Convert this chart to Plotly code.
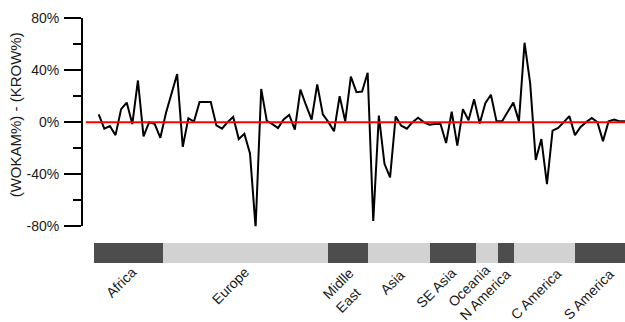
import plotly.graph_objects as go

# Difference between WOKAM and KROW shares, one value per country (ordered by region)
diff_pct = [6, -5, -3, -10, 10, 15, -1.5, 32, -11, 0,
            -1.5, -12, 7, 22, 37, -19, 3, 0.5, 15.5, 15.5,
            15.5, -2.5, -5, 0, 4, -13, -9, -24, -81, 25.5,
            1, -1.5, -4.5, 2, 5.5, -5.7, 25, 13, 2, 29,
            6, 0, -7, 20, 0.6, 35, 23, 23.5, 38, -76,
            5, -32, -42.5, 4.4, -2.7, -5, 0, 3.4, 0, -2,
            -1.4, -1.5, -16, 8, -18, 10, 1.4, 17.5, -1, 14.6,
            21, 0.6, 0.6, 8, 15, 0.6, 61, 30, -29, -13,
            -47.6, -6.5, -4.4, 0, 4.6, -10, -3.7, 0, 3.2, 0,
            -14.6, 0.6, 2, 0.6, 0.6]
country_idx = list(range(len(diff_pct)))

# Region bands along the country axis
region_names = ["Africa", "Europe", "Midlle East", "Asia", "SE Asia",
                "Oceania", "N America", "C America", "S America"]
region_edges = [-0.9, 11.4, 41.0, 48.1, 59.1, 67.35, 71.3, 74.1, 85.05, 95.5]

# Label lines drawn under the bands (two-line labels are split into rows)
label_lines = ["Africa", "Europe", "Midlle", "East", "Asia", "SE Asia",
               "Oceania", "N America", "C America", "S America"]

# Y axis ticks
y_major = [-80, -40, 0, 40, 80]
y_major_text = ["-80%", "-40%", "0%", "40%", "80%"]
y_minor = [-60, -20, 20, 60]

DARK = "#4d4d4d"
LIGHT = "#d2d2d2"
FONT = "Liberation Sans, Arial, sans-serif"

fig = go.Figure()

# Region bands (bottom strip)
centers = [(a + b) / 2 for a, b in zip(region_edges[:-1], region_edges[1:])]
widths = [b - a for a, b in zip(region_edges[:-1], region_edges[1:])]
shades = [DARK if i % 2 == 0 else LIGHT for i in range(len(region_names))]
fig.add_trace(go.Bar(
    x=centers, y=[1] * len(centers), width=widths, base=0,
    marker=dict(color=shades, line=dict(width=0)),
    yaxis="y2", xaxis="x", hoverinfo="text", hovertext=region_names,
    showlegend=False,
))

# Difference line
fig.add_trace(go.Scatter(
    x=country_idx, y=diff_pct, mode="lines",
    line=dict(color="black", width=2), showlegend=False,
))

# Zero reference line
fig.add_trace(go.Scatter(
    x=[-2.3, country_idx[-1] + 1], y=[0, 0], mode="lines",
    line=dict(color="#ff0000", width=2), showlegend=False,
))

W, H = 625, 322
ml, mt, mb = 83, 18, 58.5
plot_h = H - mt - mb

def py(px):
    """pixel row -> paper y"""
    return (H - mb - px) / plot_h

def dx(px):
    """pixel column -> country index units"""
    return (px - 99) / 5.6

fig.update_layout(
    width=W, height=H,
    margin=dict(l=ml, r=0, t=mt, b=mb, pad=0),
    paper_bgcolor="white", plot_bgcolor="white",
    font=dict(family=FONT, color="#1a1a1a"),
    bargap=0,
    xaxis=dict(range=[dx(83.3), dx(625)], visible=False, fixedrange=True),
    yaxis=dict(
        domain=[py(226.7), 1], range=[-80, 80],
        showgrid=False, zeroline=False,
        showline=True, linecolor="black", linewidth=2,
        ticks="outside", ticklen=17, tickwidth=2, tickcolor="black",
        tickvals=y_major, ticktext=y_major_text,
        tickfont=dict(size=14, family=FONT, color="#1a1a1a"),
        ticklabelstandoff=2,
        minor=dict(tickvals=y_minor, ticks="outside", ticklen=8,
                   tickwidth=2, tickcolor="black", showgrid=False),
    ),
    yaxis2=dict(domain=[0, py(243.5)], range=[0, 1], visible=False,
                anchor="x", fixedrange=True),
)

# Y axis title
fig.add_annotation(
    text="(WOKAM%) - (KROW%)", xref="paper", yref="paper",
    x=(15.5 - ml) / (W - ml), y=py(115), textangle=-90,
    showarrow=False, xanchor="center", yanchor="middle",
    font=dict(size=15, family=FONT, color="#1a1a1a"),
)

# Rotated region labels: centre of each text row, in pixels
label_center_px = [(121.7, 282.5), (230.3, 286.5), (339, 284), (348.5, 300.5),
                   (392.9, 283), (436.3, 289), (469, 286.5), (486, 295),
                   (536.2, 295), (589.2, 295)]
for txt, (cx, cy) in zip(label_lines, label_center_px):
    fig.add_annotation(
        text=txt, xref="x", yref="paper", x=dx(cx), y=py(cy),
        textangle=-45, showarrow=False, xanchor="center", yanchor="middle",
        borderpad=0,
        font=dict(size=14, family=FONT, color="#1a1a1a"),
    )

fig.write_html("out.html")
